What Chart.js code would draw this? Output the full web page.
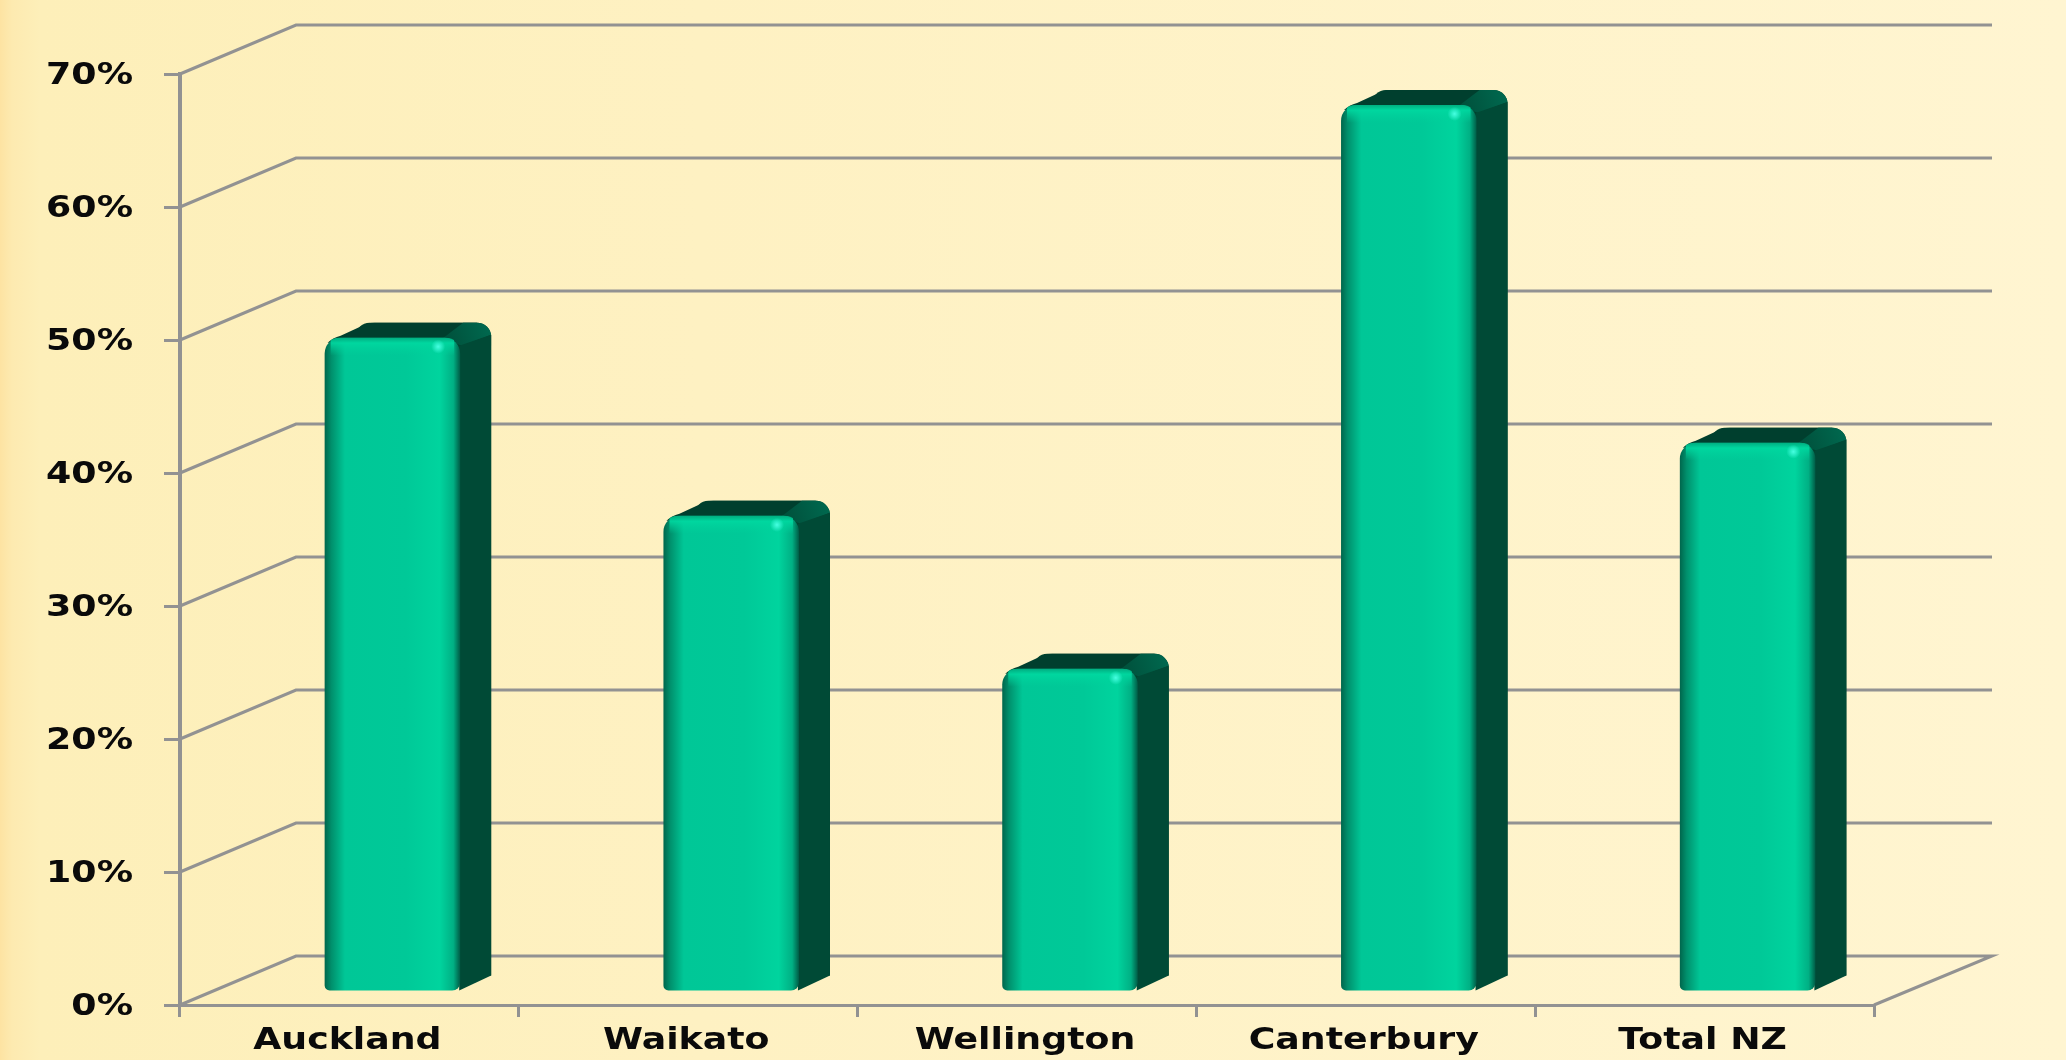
<!DOCTYPE html>
<html>
<head>
<meta charset="utf-8">
<title>Regional share</title>
<script src="https://cdn.jsdelivr.net/npm/chart.js@4/dist/chart.umd.min.js"></script>
<style>
    html, body { margin: 0; padding: 0; width: 2066px; height: 1060px; overflow: hidden; }
    body { background: linear-gradient(90deg, #fde3a2 0, #fdeab0 12px, #fdefb9 40px, #fef1c2 700px, #fff5d1 2066px); }
    canvas { display: block; filter: blur(0.6px); }
</style>
</head>
<body>
<canvas id="chart" width="2066" height="1060"></canvas>
<script>
const categories = ['Auckland', 'Waikato', 'Wellington', 'Canterbury', 'Total NZ'];
const shares = [49.2, 35.8, 24.3, 66.7, 41.3];
const axisMax = 70;
const axisStep = 10;

const GREY = '#929292';
const LABEL_FONT = 'bold 30px "DejaVu Sans"';
const TEXT_STRETCH = 1.21;
const BAR_SHARE = 0.4;
const WALL_DX = 116, WALL_DY = 49;   // depth of the back wall
const BAR_DX = 43, BAR_DY = 13;      // bar sits part way into the floor
const SIDE_DX = 31, SIDE_DY = 15;    // depth of the bar itself

function faceGradient(context) {
    const { chart, dataIndex } = context;
    const xScale = chart.scales.x;
    const cx = xScale.getPixelForValue(dataIndex);
    const width = xScale.width / categories.length * BAR_SHARE;
    if (!isFinite(cx) || !isFinite(width)) return '#00ca98'; // scale not laid out yet
    const left = cx - width / 2;
    const g = chart.ctx.createLinearGradient(left, 0, left + width, 0);
    g.addColorStop(0, '#00664c');
    g.addColorStop(0.05, '#00906c');
    g.addColorStop(0.15, '#00c797');
    g.addColorStop(0.6, '#00c998');
    g.addColorStop(0.85, '#00d49e');
    g.addColorStop(0.95, '#00b084');
    g.addColorStop(1, '#005c46');
    return g;
}

const wallPlugin = {
    id: 'wall',
    beforeDatasetsDraw(chart) {
        const { ctx, scales: { x, y } } = chart;
        ctx.save();
        ctx.strokeStyle = GREY;
        ctx.lineWidth = 3;
        y.ticks.forEach(t => {
            const py = y.getPixelForValue(t.value);
            ctx.beginPath();
            ctx.moveTo(x.left, py);
            ctx.lineTo(x.left + WALL_DX, py - WALL_DY);
            ctx.lineTo(x.right + WALL_DX + 2, py - WALL_DY);
            if (t.value === 0) ctx.lineTo(x.right, py);
            ctx.stroke();
        });
        ctx.restore();
    }
};

const solidBars = {
    id: 'solidBars',
    beforeDatasetsDraw(chart) {
        const { ctx } = chart;
        ctx.save();
        ctx.translate(BAR_DX, -BAR_DY);
        chart.getDatasetMeta(0).data.forEach(bar => {
            const left = bar.x - bar.width / 2, right = bar.x + bar.width / 2;
            const top = bar.y, base = bar.base, r = 14;
            // back silhouette, gives the rounded top corners
            ctx.fillStyle = '#00442f';
            ctx.beginPath();
            ctx.roundRect(left + SIDE_DX, top - SIDE_DY, bar.width, base - top, [14, 14, 0, 0]);
            ctx.fill();
            // top face
            ctx.fillStyle = '#003f2e';
            ctx.beginPath();
            ctx.moveTo(left + 3, top + 5);
            ctx.quadraticCurveTo(left + 8, top, left + 16, top - 2);
            ctx.lineTo(left + 42, top - SIDE_DY + 1);
            ctx.quadraticCurveTo(left + 45, top - SIDE_DY, left + 50, top - SIDE_DY);
            ctx.lineTo(right + SIDE_DX - r, top - SIDE_DY);
            ctx.lineTo(right - r, top + 2);
            ctx.closePath();
            ctx.fill();
            // lit corner at the top right
            const lit = ctx.createLinearGradient(right - 14, top, right + SIDE_DX, top - SIDE_DY);
            lit.addColorStop(0, '#00513c');
            lit.addColorStop(1, '#006a50');
            ctx.fillStyle = lit;
            ctx.beginPath();
            ctx.moveTo(right - r - 4, top + 1);
            ctx.lineTo(right + SIDE_DX - r - 14, top - SIDE_DY);
            ctx.arcTo(right + SIDE_DX, top - SIDE_DY, right + SIDE_DX, top - SIDE_DY + r, 14);
            ctx.lineTo(right + SIDE_DX, top - SIDE_DY + 12);
            ctx.lineTo(right + 2, top + 8);
            ctx.closePath();
            ctx.fill();
            // side face
            ctx.fillStyle = '#004a36';
            ctx.beginPath();
            ctx.moveTo(right - 1, top + 8);
            ctx.lineTo(right + SIDE_DX, top - SIDE_DY + 12);
            ctx.lineTo(right + SIDE_DX, base - SIDE_DY);
            ctx.lineTo(right - 1, base);
            ctx.closePath();
            ctx.fill();
        });
    },
    afterDatasetsDraw(chart) {
        const { ctx } = chart;
        chart.getDatasetMeta(0).data.forEach(bar => {
            const left = bar.x - bar.width / 2, right = bar.x + bar.width / 2;
            const top = bar.y;
            // bevel along the top edge
            ctx.save();
            ctx.beginPath();
            ctx.roundRect(left, top, bar.width, 24, [14, 14, 0, 0]);
            ctx.clip();
            const bevel = ctx.createLinearGradient(0, top, 0, top + 18);
            bevel.addColorStop(0, 'rgba(0,170,125,0.9)');
            bevel.addColorStop(0.3, 'rgba(0,216,160,0.9)');
            bevel.addColorStop(1, 'rgba(0,210,155,0)');
            ctx.fillStyle = bevel;
            ctx.fillRect(left + 6, top, bar.width - 12, 18);
            // small highlight
            const gx = right - 22, gy = top + 9;
            const glint = ctx.createRadialGradient(gx, gy, 0, gx, gy, 7);
            glint.addColorStop(0, 'rgba(70,255,225,1)');
            glint.addColorStop(1, 'rgba(70,255,225,0)');
            ctx.fillStyle = glint;
            ctx.fillRect(gx - 10, gy - 10, 20, 20);
            ctx.restore();
        });
        ctx.restore();
    }
};

// tick labels in the source are stretched sideways, ctx.scale does that
const stretchedLabels = {
    id: 'stretchedLabels',
    afterDraw(chart) {
        const { ctx, scales: { x, y } } = chart;
        ctx.save();
        ctx.font = LABEL_FONT;
        ctx.fillStyle = '#0a0a0a';
        ctx.textBaseline = 'middle';
        y.ticks.forEach(t => {
            ctx.save();
            ctx.translate(133, y.getPixelForValue(t.value) + 2);
            ctx.scale(TEXT_STRETCH, 1);
            ctx.textAlign = 'right';
            ctx.fillText(t.label, 0, 0);
            ctx.restore();
        });
        x.ticks.forEach((t, i) => {
            ctx.save();
            ctx.translate(x.getPixelForValue(i) - 2, 1041);
            ctx.scale(TEXT_STRETCH, 1);
            ctx.textAlign = 'center';
            ctx.fillText(categories[i], 0, 0);
            ctx.restore();
        });
        ctx.restore();
    }
};

new Chart(document.getElementById('chart'), {
    type: 'bar',
    data: {
        labels: categories,
        datasets: [{
            data: shares,
            backgroundColor: faceGradient,
            borderWidth: 0,
            borderSkipped: false,
            borderRadius: { topLeft: 16, topRight: 16, bottomLeft: 5, bottomRight: 8 },
            categoryPercentage: 1,
            barPercentage: BAR_SHARE
        }]
    },
    options: {
        responsive: false,
        animation: false,
        layout: { padding: { left: 164, right: 192, top: 74, bottom: 43 } },
        plugins: { legend: { display: false }, tooltip: { enabled: false } },
        scales: {
            x: {
                afterFit(s) { s.height = 12; },
                ticks: { display: false, autoSkip: false },
                grid: { offset: true, drawOnChartArea: false, color: GREY, lineWidth: 3, tickLength: 12 },
                border: { color: GREY, width: 3 }
            },
            y: {
                min: 0,
                max: axisMax,
                afterFit(s) { s.width = 16; },
                ticks: { display: false, stepSize: axisStep, callback: v => v + '%' },
                grid: { drawOnChartArea: false, color: GREY, lineWidth: 3, tickLength: 16 },
                border: { color: GREY, width: 4 }
            }
        }
    },
    plugins: [wallPlugin, solidBars, stretchedLabels]
});
</script>
</body>
</html>
